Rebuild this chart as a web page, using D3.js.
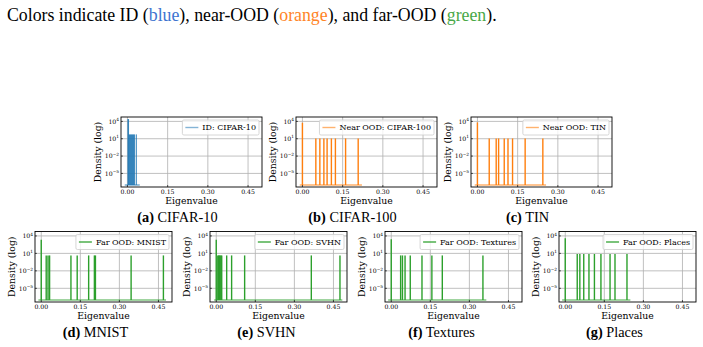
<!DOCTYPE html>
<html><head><meta charset="utf-8">
<script src="https://cdn.jsdelivr.net/npm/d3@7"></script>
<style>body{margin:0;background:#fff} svg{display:block}</style>
</head><body>
<svg id="c" width="703" height="347"></svg>
<script>
// ---------- data ----------
const panelLetters = ["a","b","c","d","e","f","g"];
const panelNames = ["CIFAR-10","CIFAR-100","TIN","MNIST","SVHN","Textures","Places"];
const legendLabels = ["ID: CIFAR-10","Near OOD: CIFAR-100","Near OOD: TIN","Far OOD: MNIST","Far OOD: SVHN","Far OOD: Textures","Far OOD: Places"];
const groups = ["id","near","near","far","far","far","far"];
const xTicks = [0, 0.15, 0.30, 0.45];
const xTickLabels = ["0.00","0.15","0.30","0.45"];
const yTickExps = [4, 1, -2, -5];
const yTickLabels = ["4","1","\u22122","\u22125"];

// ID: CIFAR-10 filled bins [start, end, log10 density]
const cifar10Bins = [[0.000,0.006,4.40],[0.004,0.028,1.75],[0.031,0.035,1.75]];
const cifar10Range = [-0.010, 0.046];

// Near OOD: CIFAR-100 (eigenvalue, log10 density)
const cifar100Eig  = [0.000,0.050,0.065,0.080,0.092,0.108,0.123,0.161,0.208];
const cifar100Dens = [3.77,1.05,1.05,1.05,1.05,1.05,1.05,1.05,1.05];
const cifar100Range = [-0.010, 0.222];

// Near OOD: TIN
const tinEig  = [0.000,0.044,0.070,0.079,0.100,0.114,0.131,0.178,0.244];
const tinDens = [3.83,1.05,1.05,1.05,1.05,1.05,1.05,1.05,1.05];
const tinRange = [-0.010, 0.256];

// Far OOD: MNIST
const mnistEig  = [0.000,0.019,0.026,0.032,0.114,0.138,0.182,0.204,0.208,0.345,0.469];
const mnistDens = [3.33,0.65,0.65,0.65,0.65,0.65,0.65,0.65,0.65,0.65,0.65];
const mnistRange = [-0.011, 0.479];

// Far OOD: SVHN
const svhnEig  = [0.000,0.006,0.009,0.012,0.015,0.018,0.021,0.040,0.059,0.109,0.365,0.475];
const svhnDens = [3.33,0.65,0.65,0.65,0.65,0.65,0.65,0.65,0.65,0.65,0.65,0.65];
const svhnRange = [-0.008, 0.484];

// Far OOD: Textures
const texturesEig  = [0.000,0.036,0.043,0.053,0.073,0.118,0.156,0.196,0.352];
const texturesDens = [3.45,0.65,0.65,0.65,0.65,0.65,0.65,0.65,0.65];
const texturesRange = [-0.012, 0.365];

// Far OOD: Places
const placesEig  = [0.000,0.046,0.056,0.071,0.091,0.112,0.137,0.172,0.191,0.237];
const placesDens = [3.62,0.90,0.90,0.90,0.90,0.90,0.90,0.90,0.90,0.90];
const placesRange = [-0.012, 0.250];

const spikeEig  = [null, cifar100Eig, tinEig, mnistEig, svhnEig, texturesEig, placesEig];
const spikeDens = [null, cifar100Dens, tinDens, mnistDens, svhnDens, texturesDens, placesDens];
const baseRanges = [cifar10Range, cifar100Range, tinRange, mnistRange, svhnRange, texturesRange, placesRange];

const xDomain = [-0.024, 0.502];
const yDomain = [-7.35, 4.76];   // log10 density
const baseLevel = -7.0;

// ---------- layout ----------
const colors = {id:"#1f77b4", near:"#ff7f0e", far:"#2ca02c"};
const layout = [
  {x:121, y:117,   w:141, h:70,  cap:-14, capY:222},
  {x:296, y:117,   w:141, h:70,  cap:-14, capY:222},
  {x:471, y:117,   w:141, h:70,  cap:-14, capY:222},
  {x:35,  y:231.5, w:137, h:70.5, cap:-8,  capY:337},
  {x:210, y:231.5, w:137, h:70.5, cap:-12, capY:337},
  {x:385, y:231.5, w:137, h:70.5, cap:-12, capY:337},
  {x:559, y:231.5, w:137, h:70.5, cap:-13, capY:337}
];

const svg = d3.select("#c");
const serif = "'DejaVu Serif', serif";
const times = "'Liberation Serif','Times New Roman',serif";

// top caption text
const t = svg.append("text").attr("x",7).attr("y",20.5)
  .attr("font-family",times).attr("font-size",17.8).attr("fill","#000");
t.append("tspan").text("Colors indicate ID (");
t.append("tspan").attr("fill","#3d74d0").text("blue");
t.append("tspan").text("), near-OOD (");
t.append("tspan").attr("fill","#ff8426").text("orange");
t.append("tspan").text("), and far-OOD (");
t.append("tspan").attr("fill","#48a848").text("green");
t.append("tspan").text(").");

layout.forEach((L, i) => {
  const g = svg.append("g").attr("transform",`translate(${L.x},${L.y})`);
  const x = d3.scaleLinear().domain(xDomain).range([0, L.w]);
  const y = d3.scaleLinear().domain(yDomain).range([L.h, 0]);
  const col = colors[groups[i]];

  // grid
  g.append("g").selectAll("line").data(xTicks).join("line")
    .attr("x1",d=>x(d)).attr("x2",d=>x(d)).attr("y1",0).attr("y2",L.h)
    .attr("stroke","#b0b0b0").attr("stroke-width",0.8);
  g.append("g").selectAll("line").data(yTickExps).join("line")
    .attr("y1",d=>y(d)).attr("y2",d=>y(d)).attr("x1",0).attr("x2",L.w)
    .attr("stroke","#b0b0b0").attr("stroke-width",0.8);

  // baseline band
  const r = baseRanges[i];
  g.append("line").attr("x1",x(r[0])).attr("x2",x(r[1]))
    .attr("y1",y(baseLevel)).attr("y2",y(baseLevel))
    .attr("stroke",col).attr("stroke-opacity",0.45).attr("stroke-width",2);

  if (i === 0) {
    g.append("g").selectAll("rect").data(cifar10Bins).join("rect")
      .attr("x",d=>x(d[0])).attr("width",d=>x(d[1])-x(d[0]))
      .attr("y",d=>y(d[2])).attr("height",d=>y(baseLevel)-y(d[2]))
      .attr("fill",col).attr("fill-opacity",0.9);
  } else {
    const pts = spikeEig[i].map((e,k)=>[e, spikeDens[i][k]]);
    g.append("g").selectAll("line").data(pts).join("line")
      .attr("x1",d=>x(d[0])).attr("x2",d=>x(d[0]))
      .attr("y1",y(baseLevel)).attr("y2",d=>y(d[1]))
      .attr("stroke",col).attr("stroke-width",1.4);
  }

  // frame
  g.append("rect").attr("width",L.w).attr("height",L.h)
    .attr("fill","none").attr("stroke","#000").attr("stroke-width",0.9);

  // ticks (inward)
  g.append("g").selectAll("line").data(xTicks).join("line")
    .attr("x1",d=>x(d)).attr("x2",d=>x(d)).attr("y1",L.h).attr("y2",L.h-2)
    .attr("stroke","#000").attr("stroke-width",0.6);
  g.append("g").selectAll("line").data(yTickExps).join("line")
    .attr("y1",d=>y(d)).attr("y2",d=>y(d)).attr("x1",0).attr("x2",2)
    .attr("stroke","#000").attr("stroke-width",0.6);

  // tick labels
  g.append("g").selectAll("text").data(xTicks).join("text")
    .attr("x",d=>x(d)).attr("y",L.h+7).attr("text-anchor","middle")
    .attr("font-family",serif).attr("font-size",6.2)
    .text((d,k)=>xTickLabels[k]);
  const yl = g.append("g").selectAll("text").data(yTickExps).join("text")
    .attr("x",-2).attr("y",d=>y(d)+2.3).attr("text-anchor","end")
    .attr("font-family",serif).attr("font-size",6.2);
  yl.append("tspan").text("10");
  yl.append("tspan").attr("font-size",4.3).attr("dy",-2.6).text((d,k)=>yTickLabels[k]);

  // axis labels
  g.append("text").attr("x",L.w/2).attr("y",L.h+16.5).attr("text-anchor","middle")
    .attr("font-family",serif).attr("font-size",9.3).text("Eigenvalue");
  g.append("text").attr("transform",`translate(-20.5,${L.h/2}) rotate(-90)`)
    .attr("text-anchor","middle").attr("font-family",serif).attr("font-size",9.3)
    .text("Density (log)");

  // legend
  const lg = g.append("g");
  const lt = lg.append("text").attr("font-family",serif).attr("font-size",8)
    .text(legendLabels[i]);
  const tw = lt.node().getComputedTextLength();
  const bw = 3 + 13 + 4 + tw + 3, bh = 15;
  const bx = L.w - 3 - bw, by = 3;
  lg.insert("rect","text").attr("x",bx).attr("y",by).attr("width",bw).attr("height",bh)
    .attr("rx",1.5).attr("fill","#fff").attr("fill-opacity",0.8)
    .attr("stroke","#cccccc").attr("stroke-width",0.8);
  lg.append("line").attr("x1",bx+3).attr("x2",bx+16).attr("y1",by+bh/2).attr("y2",by+bh/2)
    .attr("stroke",col).attr("stroke-width",1.4)
    .attr("stroke-opacity", i===0 ? 0.55 : (i<3 ? 0.6 : 0.9));
  lt.attr("x",bx+20).attr("y",by+bh/2+2.8);

  // caption
  const c = svg.append("text").attr("x",L.x+L.w/2+L.cap).attr("y",L.capY)
    .attr("text-anchor","middle").attr("font-family",times).attr("font-size",14.3);
  c.append("tspan").attr("font-weight","bold").text(`(${panelLetters[i]})`);
  c.append("tspan").text(" " + panelNames[i]);
});
</script>
</body></html>
